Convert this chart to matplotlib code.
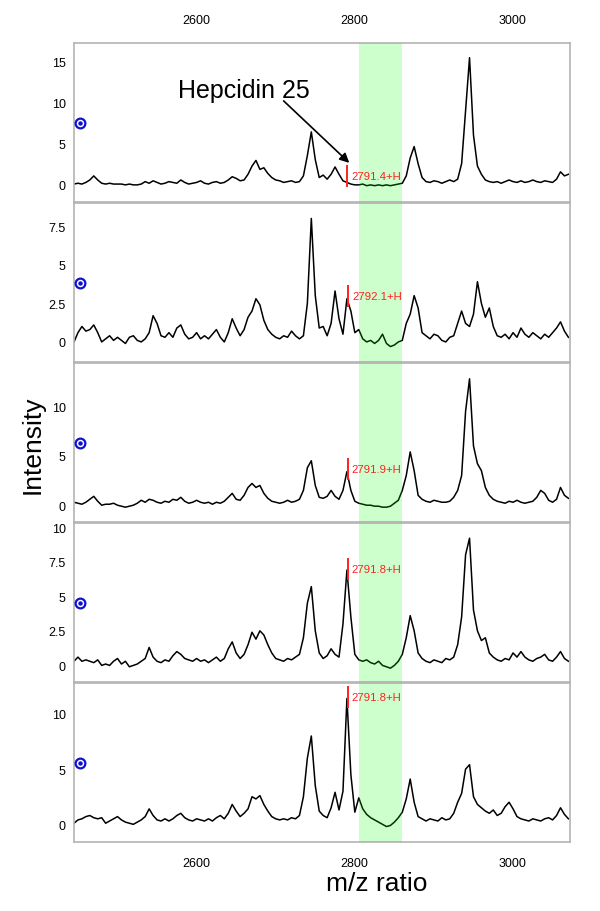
import numpy as np
import matplotlib
matplotlib.use("Agg")
import matplotlib.pyplot as plt

plt.rcParams['font.family'] = ['Liberation Sans', 'DejaVu Sans']

# m/z sumbu x (langkah 5)
mz = np.arange(2446, 3074, 5)

# intensitas tiap spektrum
spek1 = [0.0, 0.1, 0.0, 0.2, 0.5, 1.0, 0.5, 0.1, 0.0, 0.1, 0.0, 0.0, 0.0, -0.1, 0.0, -0.1, -0.1, 0.0, 0.3, 0.1,
         0.4, 0.2, 0.0, 0.1, 0.3, 0.2, 0.1, 0.5, 0.2, 0.0, 0.1, 0.2, 0.4, 0.1, 0.0, 0.2, 0.3, 0.1, 0.2, 0.5,
         0.9, 0.7, 0.4, 0.5, 1.2, 2.2, 2.9, 1.8, 2.0, 1.3, 0.8, 0.5, 0.4, 0.2, 0.3, 0.4, 0.2, 0.3, 1.0, 3.5,
         6.4, 3.0, 0.8, 1.1, 0.6, 1.2, 2.1, 1.2, 0.4, 0.2, 0.0, -0.1, -0.1, 0.0, -0.2, -0.1, -0.2, -0.1, -0.2, -0.1,
         -0.2, -0.1, 0.0, 0.1, 1.0, 3.2, 4.6, 2.5, 0.8, 0.3, 0.2, 0.4, 0.3, 0.1, 0.3, 0.5, 0.3, 0.6, 2.5, 9.0,
         15.5, 6.0, 2.2, 1.2, 0.5, 0.3, 0.2, 0.3, 0.1, 0.3, 0.5, 0.3, 0.2, 0.4, 0.2, 0.3, 0.5, 0.3, 0.2, 0.4,
         0.3, 0.2, 0.6, 1.5, 1.0, 1.2]
spek2 = [0.0, 0.6, 1.0, 0.7, 0.8, 1.1, 0.6, 0.0, 0.2, 0.4, 0.1, 0.3, 0.1, -0.1, 0.3, 0.4, 0.1, 0.0, 0.2, 0.6,
         1.7, 1.2, 0.4, 0.3, 0.6, 0.3, 0.9, 1.1, 0.5, 0.2, 0.3, 0.6, 0.2, 0.4, 0.2, 0.5, 0.8, 0.3, 0.0, 0.6,
         1.5, 0.9, 0.4, 0.8, 1.6, 2.0, 2.8, 2.4, 1.4, 0.8, 0.5, 0.3, 0.2, 0.4, 0.3, 0.7, 0.4, 0.2, 0.4, 2.5,
         8.0, 3.0, 0.9, 1.0, 0.4, 1.2, 3.3, 1.5, 0.5, 2.8, 2.0, 0.6, 0.8, 0.2, 0.0, 0.1, -0.1, 0.1, 0.5, -0.1,
         -0.3, -0.2, 0.0, 0.1, 1.2, 1.8, 3.0, 2.2, 0.6, 0.4, 0.2, 0.5, 0.4, 0.1, 0.0, 0.3, 0.4, 1.2, 2.0, 1.2,
         1.0, 1.8, 3.9, 2.5, 1.6, 2.2, 1.0, 0.4, 0.3, 0.5, 0.2, 0.6, 0.3, 0.9, 0.5, 0.3, 0.6, 0.4, 0.2, 0.5,
         0.3, 0.6, 0.9, 1.3, 0.7, 0.3]
spek3 = [0.3, 0.2, 0.1, 0.3, 0.6, 0.9, 0.4, 0.0, 0.1, 0.1, 0.2, 0.0, -0.1, -0.2, -0.1, 0.0, 0.2, 0.5, 0.3, 0.6,
         0.5, 0.3, 0.2, 0.4, 0.3, 0.6, 0.5, 0.8, 0.4, 0.2, 0.3, 0.5, 0.3, 0.2, 0.3, 0.1, 0.3, 0.2, 0.4, 0.8,
         1.2, 0.6, 0.5, 1.0, 1.8, 2.2, 1.8, 2.0, 1.2, 0.7, 0.4, 0.3, 0.2, 0.3, 0.5, 0.3, 0.4, 0.6, 1.5, 3.8,
         4.5, 2.0, 0.8, 0.7, 0.9, 1.5, 0.9, 0.6, 1.5, 3.4, 1.5, 0.4, 0.2, 0.1, 0.0, 0.0, -0.1, -0.1, -0.2, -0.2,
         -0.1, 0.2, 0.5, 1.5, 3.0, 5.4, 3.5, 1.0, 0.6, 0.4, 0.3, 0.5, 0.4, 0.3, 0.3, 0.4, 0.8, 1.5, 3.0, 9.5,
         12.8, 6.0, 4.2, 3.5, 1.8, 1.0, 0.6, 0.4, 0.3, 0.2, 0.4, 0.3, 0.5, 0.3, 0.2, 0.3, 0.4, 0.8, 1.5, 1.2,
         0.5, 0.3, 0.6, 1.8, 1.0, 0.7]
spek4 = [0.3, 0.6, 0.3, 0.4, 0.3, 0.2, 0.4, 0.0, 0.1, 0.0, 0.3, 0.5, 0.1, 0.3, -0.1, 0.0, 0.1, 0.3, 0.5, 1.3,
         0.6, 0.3, 0.2, 0.4, 0.3, 0.7, 1.0, 0.8, 0.5, 0.4, 0.3, 0.5, 0.3, 0.4, 0.2, 0.4, 0.6, 0.3, 0.5, 1.2,
         1.7, 0.9, 0.5, 0.8, 1.5, 2.4, 1.9, 2.5, 2.2, 1.5, 0.9, 0.5, 0.4, 0.3, 0.5, 0.4, 0.6, 0.8, 2.0, 4.5,
         5.7, 2.5, 0.9, 0.5, 0.7, 1.2, 0.8, 0.6, 3.0, 6.9, 3.5, 0.8, 0.4, 0.3, 0.4, 0.2, 0.1, 0.3, 0.0, -0.1,
         -0.2, 0.0, 0.3, 0.8, 2.0, 3.6, 2.5, 0.9, 0.5, 0.3, 0.2, 0.4, 0.3, 0.2, 0.5, 0.4, 0.6, 1.5, 3.5, 8.0,
         9.2, 4.0, 2.5, 1.8, 2.0, 0.9, 0.6, 0.4, 0.3, 0.5, 0.4, 0.9, 0.6, 1.0, 0.6, 0.4, 0.3, 0.5, 0.6, 0.8,
         0.4, 0.3, 0.6, 1.0, 0.5, 0.3]
spek5 = [0.1, 0.4, 0.5, 0.7, 0.8, 0.6, 0.5, 0.6, 0.1, 0.3, 0.5, 0.7, 0.4, 0.2, 0.1, 0.0, 0.2, 0.4, 0.7, 1.4,
         0.8, 0.4, 0.3, 0.5, 0.3, 0.5, 0.8, 1.0, 0.6, 0.4, 0.3, 0.5, 0.4, 0.3, 0.5, 0.3, 0.6, 0.8, 0.5, 1.0,
         1.8, 1.2, 0.7, 1.0, 1.4, 2.5, 2.3, 2.6, 1.8, 1.2, 0.7, 0.5, 0.4, 0.5, 0.4, 0.6, 0.5, 0.8, 2.5, 6.0,
         8.0, 3.5, 1.2, 0.8, 0.6, 1.5, 2.9, 1.3, 3.0, 11.4, 4.5, 1.1, 2.4, 1.4, 0.9, 0.6, 0.4, 0.2, 0.0, -0.2,
         -0.1, 0.2, 0.6, 1.1, 2.3, 4.1, 2.0, 0.7, 0.5, 0.3, 0.5, 0.4, 0.3, 0.6, 0.4, 0.5, 1.0, 2.0, 2.8, 5.0,
         5.4, 2.5, 1.8, 1.5, 1.2, 1.0, 1.3, 0.8, 1.0, 1.6, 2.0, 1.4, 0.7, 0.5, 0.4, 0.3, 0.5, 0.4, 0.3, 0.5,
         0.6, 0.4, 0.8, 1.5, 0.9, 0.5]
semua_spek = [spek1, spek2, spek3, spek4, spek5]

# puncak hepcidin yang ditandai (posisi, tinggi label)
puncak_mz = [2791.4, 2792.1, 2791.9, 2791.8, 2791.8]
puncak_y = [1.0, 3.0, 3.7, 7.0, 11.5]
puncak_label = ["2791.4+H", "2792.1+H", "2791.9+H", "2791.8+H", "2791.8+H"]

# batas dan tick sumbu y tiap panel
batas_y = [(-2.2, 17.3), (-1.3, 9.0), (-1.7, 14.4), (-1.2, 10.3), (-1.6, 12.8)]
tick_y = [[0, 5, 10, 15], [0, 2.5, 5, 7.5], [0, 5, 10], [0, 2.5, 5, 7.5, 10], [0, 5, 10]]
label_y = [["0", "5", "10", "15"], ["0", "2.5", "5", "7.5"], ["0", "5", "10"],
           ["0", "2.5", "5", "7.5", "10"], ["0", "5", "10"]]

tick_x = [2600, 2800, 3000]
rentang_hijau = (2806, 2861)

fig = plt.figure(figsize=(6, 9.12), dpi=100)
W, H = 600, 912
kiri, kanan = 74, 570

for k in range(5):
    atas = 44 + k * 160
    bawah = atas + 159
    ax = fig.add_axes([kiri / W, 1 - bawah / H, (kanan - kiri) / W, 159 / H])

    ax.plot(mz, semua_spek[k], color='black', lw=1.1, zorder=2)
    ax.axvspan(rentang_hijau[0], rentang_hijau[1], color=(0, 1, 0), alpha=0.2, lw=0, zorder=3)

    # garis merah + label puncak
    ax.plot(puncak_mz[k], puncak_y[k], marker='|', ms=16, mew=1.4, color='#ff2020', zorder=4)
    ax.annotate(puncak_label[k], (puncak_mz[k], puncak_y[k]), xytext=(3, 0), textcoords='offset points',
                va='center', ha='left', fontsize=8.2, color='#ff2020', zorder=5)

    # lingkaran biru di kiri
    ax.plot(0.012, 0.5, transform=ax.transAxes, marker='o', ms=7, mfc='white', mec='#1010d0', mew=1.6,
            clip_on=False, zorder=5)
    ax.plot(0.012, 0.5, transform=ax.transAxes, marker='o', ms=2.2, color='#1010d0', clip_on=False, zorder=6)

    ax.set_xlim(2446, 3073)
    ax.set_ylim(batas_y[k])
    ax.set_yticks(tick_y[k])
    ax.set_yticklabels(label_y[k])
    ax.set_xticks(tick_x)
    ax.tick_params(length=0, labelsize=9, colors='black')
    ax.tick_params(axis='y', pad=6)
    for s in ax.spines.values():
        s.set_color('#b4b4b4')
        s.set_linewidth(1.2)

    if k == 0:
        ax.xaxis.tick_top()
        ax.tick_params(axis='x', pad=12)
        # panah Hepcidin 25
        ax.annotate('', xy=(2794, 2.6), xytext=(2711, 10.2),
                    arrowprops=dict(arrowstyle='-|>', color='black', lw=1.2, mutation_scale=14,
                                    shrinkA=0, shrinkB=0))
        ax.text(2577, 11.5, "Hepcidin 25", fontsize=18, va='center', ha='left')
    elif k == 4:
        ax.tick_params(axis='x', pad=11)
    else:
        ax.set_xticklabels([])

fig.text(33 / W, 1 - 445 / H, "Intensity", rotation=90, fontsize=19, ha='center', va='center')
fig.text(377 / W, 1 - 884 / H, "m/z ratio", fontsize=19, ha='center', va='center')

plt.savefig("out.png", dpi=100)
